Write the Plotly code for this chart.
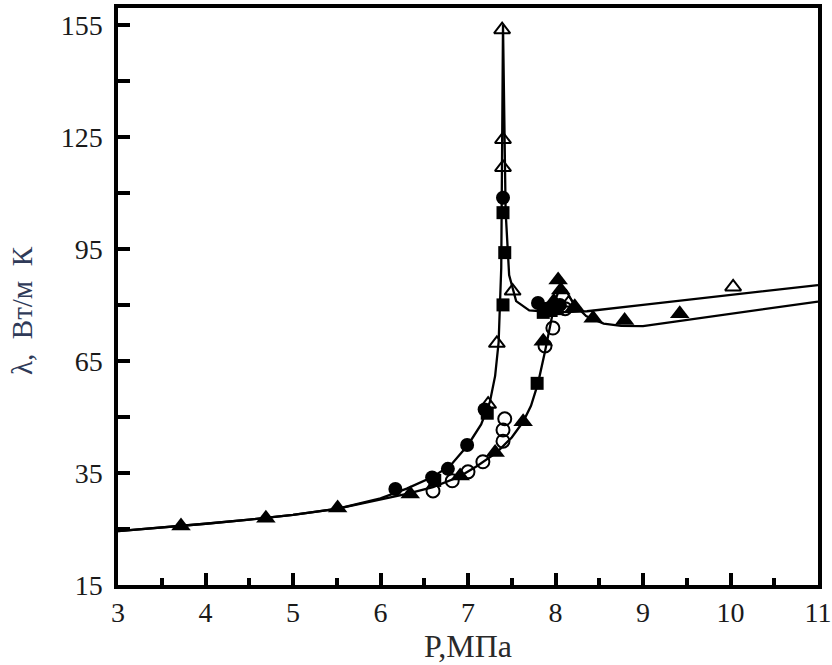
import plotly.graph_objects as go

# Thermal conductivity vs pressure: two smoothed isotherm curves
c1_p = [3.0, 3.5, 4.0, 4.5, 5.0, 5.5, 6.0, 6.3, 6.6, 6.8, 7.0, 7.15, 7.25, 7.31, 7.35,
        7.38, 7.40, 7.43, 7.47, 7.55, 7.7, 8.0, 8.36, 9.0, 10.0, 11.0]
c1_lam = [19.4, 20.3, 21.4, 22.5, 23.8, 25.4, 28.2, 30.8, 34.0, 37.0, 42.5, 48.0, 54.0, 61.0, 70.0,
          90.0, 155.0, 105.0, 88.0, 81.0, 78.5, 78.0, 78.3, 80.0, 82.6, 85.3]

c2_p = [3.0, 3.5, 4.0, 4.5, 5.0, 5.5, 6.0, 6.3, 6.6, 6.9, 7.1, 7.33, 7.5, 7.63, 7.72, 7.8,
        7.88, 7.95, 8.0, 8.05, 8.12, 8.2, 8.35, 8.55, 8.75, 9.0, 10.0, 11.0]
c2_lam = [19.4, 20.3, 21.4, 22.5, 23.8, 25.4, 27.8, 29.4, 31.2, 34.0, 36.8, 40.5, 44.5, 48.7, 53.0, 59.0,
          67.5, 76.0, 81.5, 84.5, 84.0, 80.5, 77.0, 75.0, 74.4, 74.3, 77.6, 80.9]

# Measured points, one list pair per marker style
tri_open_p = [7.23, 7.33, 7.40, 7.40, 7.39, 7.51, 8.15, 10.03]
tri_open_lam = [53.4, 69.7, 116.8, 124.3, 153.7, 83.7, 80.5, 84.8]

tri_fill_p = [3.72, 4.69, 5.51, 6.34, 6.91, 7.31, 7.63, 7.86, 8.03, 8.06, 7.98, 8.22, 8.43, 8.79, 9.42]
tri_fill_lam = [20.8, 22.9, 25.6, 29.4, 34.2, 40.5, 48.7, 70.3, 86.7, 84.0, 81.0, 79.5, 76.4, 75.8, 77.6]

circ_fill_p = [6.17, 6.59, 6.77, 6.99, 7.19, 7.40, 7.80, 7.90, 8.05]
circ_fill_lam = [30.7, 33.8, 36.1, 42.5, 52.0, 108.7, 80.5, 79.0, 80.0]

sq_fill_p = [6.62, 7.22, 7.40, 7.42, 7.40, 7.79, 7.86, 7.95, 8.02]
sq_fill_lam = [33.0, 51.0, 104.7, 94.0, 80.0, 59.0, 78.0, 78.5, 79.0]

circ_open_p = [6.60, 6.82, 7.00, 7.17, 7.40, 7.40, 7.42, 7.88, 7.97, 8.11]
circ_open_lam = [30.2, 32.9, 35.3, 38.0, 43.5, 46.5, 49.5, 69.0, 73.8, 79.0]

y_tickvals = [5, 35, 65, 95, 125, 155]
y_ticktext = ["15", "35", "65", "95", "125", "155"]
x_tickvals = [3, 4, 5, 6, 7, 8, 9, 10, 11]

fig = go.Figure()

for px_, ly in [(c1_p, c1_lam), (c2_p, c2_lam)]:
    fig.add_trace(go.Scatter(x=px_, y=ly, mode="lines",
                             line=dict(color="black", width=2.3), hoverinfo="skip"))

marker_sets = [
    (circ_open_p, circ_open_lam, dict(symbol="circle-open", size=13, color="black", line=dict(width=2))),
    (tri_open_p, tri_open_lam, dict(symbol="triangle-up-open", size=14, color="black", line=dict(width=2))),
    (sq_fill_p, sq_fill_lam, dict(symbol="square", size=13, color="black")),
    (circ_fill_p, circ_fill_lam, dict(symbol="circle", size=14, color="black")),
    (tri_fill_p, tri_fill_lam, dict(symbol="triangle-up", size=17, color="black")),
]
for mp, ml, mk in marker_sets:
    fig.add_trace(go.Scatter(x=mp, y=ml, mode="markers", marker=mk))

serif = "Liberation Serif"
axis_font = dict(family=serif, size=28, color="#1a1a1a")

fig.update_layout(
    width=832, height=665,
    margin=dict(l=118, r=14, t=8, b=80),
    paper_bgcolor="white", plot_bgcolor="white",
    showlegend=False,
    xaxis=dict(
        range=[3, 11], tickvals=x_tickvals, ticks="inside", ticklen=12, tickwidth=3.5,
        tickcolor="black", showline=True, linecolor="black", linewidth=3.5, mirror=True,
        showgrid=False, zeroline=False, tickfont=axis_font, automargin=False,
        minor=dict(dtick=0.5, ticks="inside", ticklen=7, tickwidth=3.5, tickcolor="black", showgrid=False),
        title=dict(text="P,МПа", font=dict(family=serif, size=32, color="#2a2a2a"), standoff=4),
    ),
    yaxis=dict(
        range=[5, 159.5], tickvals=y_tickvals, ticktext=y_ticktext, ticks="inside", ticklen=12,
        tickwidth=3.5, tickcolor="black", showline=True, linecolor="black", linewidth=3.5, mirror=True,
        showgrid=False, zeroline=False, tickfont=axis_font, automargin=False, ticklabelstandoff=6,
        minor=dict(tickvals=[20, 50, 80, 110, 140], ticks="inside", ticklen=12, tickwidth=3.5,
                   tickcolor="black", showgrid=False),
    ),
    annotations=[dict(
        text="λ,  Вт/м  К", textangle=-90, xref="paper", yref="paper",
        x=-0.137, y=0.475, xanchor="center", yanchor="middle", showarrow=False,
        font=dict(family=serif, size=29, color="#2f3a58"),
    )],
)

fig.write_html("out.html")
